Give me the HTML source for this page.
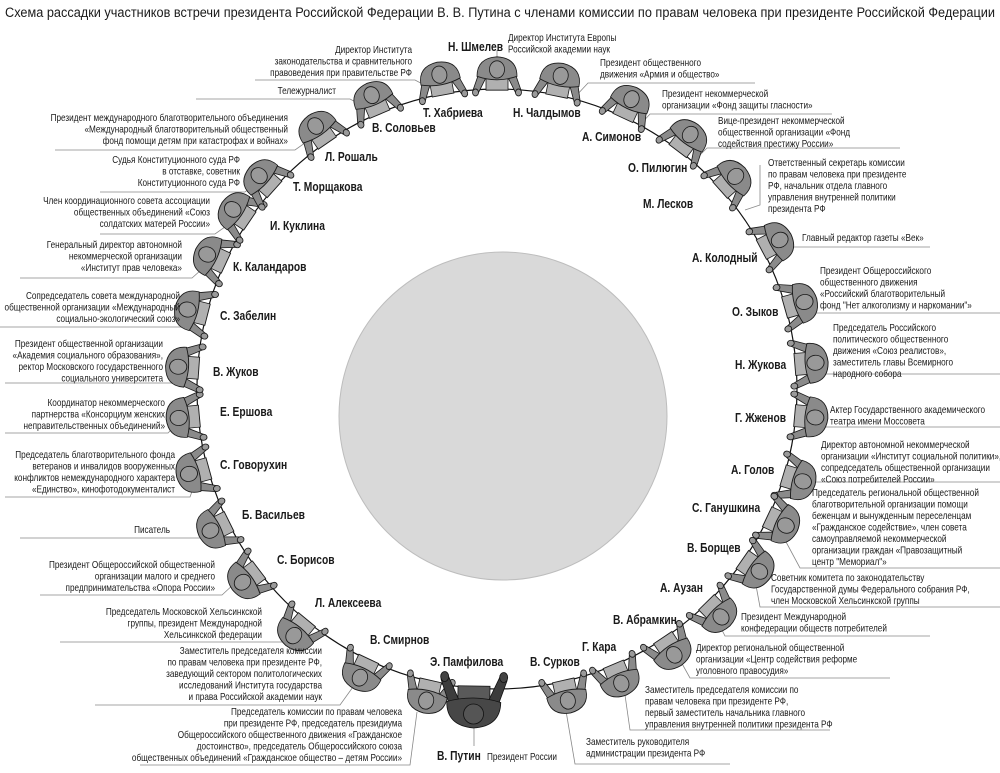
<!DOCTYPE html>
<html><head><meta charset="utf-8"><style>
html,body{margin:0;padding:0;background:#fff}
svg{display:block}
text{font-family:"Liberation Sans","DejaVu Sans",sans-serif;fill:#1a1a1a}
.d{font-size:10px}
.n{font-size:12.5px;font-weight:bold}
.e{text-anchor:end}
.l{stroke:#888;stroke-width:.8;fill:none}
</style></head><body>
<svg width="1000" height="773" viewBox="0 0 1000 773" xmlns="http://www.w3.org/2000/svg">
<defs>
<g id="p" stroke="#1a1a1a" stroke-width=".8"><g transform="scale(1,1.15)">
<rect x="-11" y="-1" width="22" height="14" fill="#b0b0b0"/>
<path d="M-18,14 L-24,-1 L-19,-4 L-11,10Z" fill="#8a8a8a"/>
<path d="M18,14 L24,-1 L19,-4 L11,10Z" fill="#8a8a8a"/>
<circle cx="-21.5" cy="-3" r="3" fill="#9a9a9a"/>
<circle cx="21.5" cy="-3" r="3" fill="#9a9a9a"/>
<path d="M-20,11 Q-20,27 0,28 Q20,27 20,11 Q10,8 0,8 Q-10,8 -20,11Z" fill="#8a8a8a"/>
<circle cx="0" cy="17" r="7.5" fill="#999"/>
</g></g>
<g id="pp" stroke="#111" stroke-width=".8">
<rect x="-16" y="-2" width="32" height="18" fill="#5a5a5a"/>
<path d="M-24,18 L-33,-8 L-26,-12 L-15,12Z" fill="#3c3c3c"/>
<path d="M24,18 L33,-8 L26,-12 L15,12Z" fill="#3c3c3c"/>
<ellipse cx="-29.5" cy="-11" rx="4" ry="5" fill="#444"/>
<ellipse cx="29.5" cy="-11" rx="4" ry="5" fill="#444"/>
<path d="M-27,14 Q-27,38 0,40 Q27,38 27,14 Q14,10 0,10 Q-14,10 -27,14Z" fill="#474747"/>
<circle cx="0" cy="26" r="10" fill="#555"/>
</g>
</defs>

<text x="5" y="17" style="font-size:13.5px" textLength="990" lengthAdjust="spacingAndGlyphs">Схема рассадки участников встречи президента Российской Федерации В. В. Путина с членами комиссии по правам человека при президенте Российской Федерации</text>

<circle cx="503" cy="416" r="164" fill="#d9d9d9" stroke="#bdbdbd" stroke-width="1"/>
<circle cx="497" cy="389" r="300" fill="none" stroke="#111" stroke-width="1.2"/>

<g class="l">
<polyline points="255,80 415,80 430,88"/>
<polyline points="196,99 350,99 365,107"/>
<polyline points="55,150 295,150 312,138"/>
<polyline points="100,192 245,192 258,182"/>
<polyline points="100,234 215,234 232,222"/>
<polyline points="20,278 192,278 210,262"/>
<polyline points="0,327 185,327 195,318"/>
<polyline points="5,383 172,383 180,375"/>
<polyline points="5,433 168,433 178,423"/>
<polyline points="5,497 190,497 195,483"/>
<polyline points="20,538 200,538 208,535"/>
<polyline points="40,595 222,595 235,583"/>
<polyline points="60,642 282,642 292,632"/>
<polyline points="95,705 340,705 358,680"/>
<polyline points="140,765 410,765 417,712"/>
<line x1="474" y1="728" x2="474" y2="746"/>
<line x1="497" y1="62" x2="497" y2="50"/>
<polyline points="755,83 588,83 575,97"/>
<polyline points="832,114 650,114 640,125"/>
<polyline points="900,148 707,148 697,158"/>
<polyline points="760,165 760,205 745,210"/>
<polyline points="930,247 785,247 775,252"/>
<polyline points="1000,313 800,313 795,310"/>
<polyline points="1000,374 815,374 810,366"/>
<polyline points="1000,427 815,427 810,420"/>
<polyline points="1000,482 815,482 805,480"/>
<polyline points="1000,568 800,568 785,540"/>
<polyline points="1000,607 760,607 755,580"/>
<polyline points="930,636 725,636 718,622"/>
<polyline points="890,678 690,678 680,660"/>
<polyline points="830,730 630,730 625,695"/>
<polyline points="730,764 575,764 565,705"/>
</g>

<use href="#p" transform="translate(430.5,681.5) rotate(12.8)"/>
<use href="#p" transform="translate(368.3,660) rotate(25.4)"/>
<use href="#p" transform="translate(306.2,620.5) rotate(39.5)"/>
<use href="#p" transform="translate(258.1,570.4) rotate(52.8)"/>
<use href="#p" transform="translate(228,521.9) rotate(63.7)"/>
<use href="#p" transform="translate(207.8,468.7) rotate(74.6)"/>
<use href="#p" transform="translate(198.2,416.2) rotate(84.8)"/>
<use href="#p" transform="translate(197.7,368.1) rotate(94)"/>
<use href="#p" transform="translate(206.4,314.4) rotate(104.4)"/>
<use href="#p" transform="translate(224.9,262.7) rotate(114.9)"/>
<use href="#p" transform="translate(248.9,220.4) rotate(124.2)"/>
<use href="#p" transform="translate(273.7,188.7) rotate(131.9)"/>
<use href="#p" transform="translate(326.7,142.1) rotate(145.4)"/>
<use href="#p" transform="translate(379.3,113.1) rotate(156.9)"/>
<use href="#p" transform="translate(442.9,93.9) rotate(169.6)"/>
<use href="#p" transform="translate(497,89) rotate(180)"/>
<use href="#p" transform="translate(556.8,95) rotate(191.5)"/>
<use href="#p" transform="translate(623.3,116.9) rotate(204.9)"/>
<use href="#p" transform="translate(678.4,150.1) rotate(217.2)"/>
<use href="#p" transform="translate(721,189.4) rotate(228.3)"/>
<use href="#p" transform="translate(762.4,249.1) rotate(242.2)"/>
<use href="#p" transform="translate(785.7,307.3) rotate(254.2)"/>
<use href="#p" transform="translate(796,364.4) rotate(265.3)"/>
<use href="#p" transform="translate(795.8,415.7) rotate(275.1)"/>
<use href="#p" transform="translate(784.2,475.7) rotate(286.8)"/>
<use href="#p" transform="translate(768.2,517.2) rotate(295.3)"/>
<use href="#p" transform="translate(743.3,560.2) rotate(304.8)"/>
<use href="#p" transform="translate(707.3,603) rotate(315.5)"/>
<use href="#p" transform="translate(663.4,638.6) rotate(326.3)"/>
<use href="#p" transform="translate(613.7,665.4) rotate(337.1)"/>
<use href="#p" transform="translate(563.5,681.5) rotate(347.2)"/>
<use href="#pp" transform="translate(474,688) rotate(1)"/>

<text class="n" transform="translate(448,51) scale(.82,1)">Н. Шмелев</text>
<text class="n" transform="translate(423,117) scale(.82,1)">Т. Хабриева</text>
<text class="n" transform="translate(513,117) scale(.82,1)">Н. Чалдымов</text>
<text class="n" transform="translate(372,132) scale(.82,1)">В. Соловьев</text>
<text class="n" transform="translate(582,141) scale(.82,1)">А. Симонов</text>
<text class="n" transform="translate(325,161) scale(.82,1)">Л. Рошаль</text>
<text class="n" transform="translate(628,172) scale(.82,1)">О. Пилюгин</text>
<text class="n" transform="translate(293,191) scale(.82,1)">Т. Морщакова</text>
<text class="n" transform="translate(643,208) scale(.82,1)">М. Лесков</text>
<text class="n" transform="translate(270,230) scale(.82,1)">И. Куклина</text>
<text class="n" transform="translate(692,262) scale(.82,1)">А. Колодный</text>
<text class="n" transform="translate(233,271) scale(.82,1)">К. Каландаров</text>
<text class="n" transform="translate(732,316) scale(.82,1)">О. Зыков</text>
<text class="n" transform="translate(220,320) scale(.82,1)">С. Забелин</text>
<text class="n" transform="translate(735,369) scale(.82,1)">Н. Жукова</text>
<text class="n" transform="translate(213,376) scale(.82,1)">В. Жуков</text>
<text class="n" transform="translate(220,416) scale(.82,1)">Е. Ершова</text>
<text class="n" transform="translate(735,422) scale(.82,1)">Г. Жженов</text>
<text class="n" transform="translate(220,469) scale(.82,1)">С. Говорухин</text>
<text class="n" transform="translate(731,474) scale(.82,1)">А. Голов</text>
<text class="n" transform="translate(242,519) scale(.82,1)">Б. Васильев</text>
<text class="n" transform="translate(692,512) scale(.82,1)">С. Ганушкина</text>
<text class="n" transform="translate(687,552) scale(.82,1)">В. Борщев</text>
<text class="n" transform="translate(277,564) scale(.82,1)">С. Борисов</text>
<text class="n" transform="translate(660,592) scale(.82,1)">А. Аузан</text>
<text class="n" transform="translate(315,607) scale(.82,1)">Л. Алексеева</text>
<text class="n" transform="translate(613,624) scale(.82,1)">В. Абрамкин</text>
<text class="n" transform="translate(370,644) scale(.82,1)">В. Смирнов</text>
<text class="n" transform="translate(582,651) scale(.82,1)">Г. Кара</text>
<text class="n" transform="translate(430,666) scale(.82,1)">Э. Памфилова</text>
<text class="n" transform="translate(530,666) scale(.82,1)">В. Сурков</text>
<text class="n" transform="translate(437,760) scale(.82,1)">В. Путин</text>
<text class="d" transform="translate(487,760) scale(.82,1)">Президент России</text>

<g class="d e">
<g transform="translate(412,53) scale(.82,1)"><text class="e" y="0">Директор Института</text><text class="e" y="11.5">законодательства и сравнительного</text><text class="e" y="23">правоведения при правительстве РФ</text></g>
<g transform="translate(336,94) scale(.82,1)"><text class="e">Тележурналист</text></g>
<g transform="translate(288,121) scale(.82,1)"><text class="e" y="0">Президент международного благотворительного объединения</text><text class="e" y="11.5">«Международный благотворительный общественный</text><text class="e" y="23">фонд помощи детям при катастрофах и войнах»</text></g>
<g transform="translate(240,163) scale(.82,1)"><text class="e" y="0">Судья Конституционного суда РФ</text><text class="e" y="11.5">в отставке, советник</text><text class="e" y="23">Конституционного суда РФ</text></g>
<g transform="translate(210,204) scale(.82,1)"><text class="e" y="0">Член координационного совета ассоциации</text><text class="e" y="11.5">общественных объединений «Союз</text><text class="e" y="23">солдатских матерей России»</text></g>
<g transform="translate(182,248) scale(.82,1)"><text class="e" y="0">Генеральный директор автономной</text><text class="e" y="11.5">некоммерческой организации</text><text class="e" y="23">«Институт прав человека»</text></g>
<g transform="translate(180,299) scale(.82,1)"><text class="e" y="0">Сопредседатель совета международной</text><text class="e" y="11.5">общественной организации «Международный</text><text class="e" y="23">социально-экологический союз»</text></g>
<g transform="translate(163,347) scale(.82,1)"><text class="e" y="0">Президент общественной организации</text><text class="e" y="11.5">«Академия социального образования»,</text><text class="e" y="23">ректор Московского государственного</text><text class="e" y="34.5">социального университета</text></g>
<g transform="translate(165,406) scale(.82,1)"><text class="e" y="0">Координатор некоммерческого</text><text class="e" y="11.5">партнерства «Консорциум женских</text><text class="e" y="23">неправительственных объединений»</text></g>
<g transform="translate(175,458) scale(.82,1)"><text class="e" y="0">Председатель благотворительного фонда</text><text class="e" y="11.5">ветеранов и инвалидов вооруженных</text><text class="e" y="23">конфликтов немеждународного характера</text><text class="e" y="34.5">«Единство», кинофотодокументалист</text></g>
<g transform="translate(170,533) scale(.82,1)"><text class="e">Писатель</text></g>
<g transform="translate(215,568) scale(.82,1)"><text class="e" y="0">Президент Общероссийской общественной</text><text class="e" y="11.5">организации малого и среднего</text><text class="e" y="23">предпринимательства «Опора России»</text></g>
<g transform="translate(262,615) scale(.82,1)"><text class="e" y="0">Председатель Московской Хельсинкской</text><text class="e" y="11.5">группы, президент Международной</text><text class="e" y="23">Хельсинкской федерации</text></g>
<g transform="translate(322,654) scale(.82,1)"><text class="e" y="0">Заместитель председателя комиссии</text><text class="e" y="11.5">по правам человека при президенте РФ,</text><text class="e" y="23">заведующий сектором политологических</text><text class="e" y="34.5">исследований Института государства</text><text class="e" y="46">и права Российской академии наук</text></g>
<g transform="translate(402,715) scale(.82,1)"><text class="e" y="0">Председатель комиссии по правам человека</text><text class="e" y="11.5">при президенте РФ, председатель президиума</text><text class="e" y="23">Общероссийского общественного движения «Гражданское</text><text class="e" y="34.5">достоинство», председатель Общероссийского союза</text><text class="e" y="46">общественных объединений «Гражданское общество – детям России»</text></g>
</g>

<g class="d">
<g transform="translate(508,41) scale(.82,1)"><text y="0">Директор Института Европы</text><text y="11.5">Российской академии наук</text></g>
<g transform="translate(600,66) scale(.82,1)"><text y="0">Президент общественного</text><text y="11.5">движения «Армия и общество»</text></g>
<g transform="translate(662,97) scale(.82,1)"><text y="0">Президент некоммерческой</text><text y="11.5">организации «Фонд защиты гласности»</text></g>
<g transform="translate(718,124) scale(.82,1)"><text y="0">Вице-президент некоммерческой</text><text y="11.5">общественной организации «Фонд</text><text y="23">содействия престижу России»</text></g>
<g transform="translate(768,166) scale(.82,1)"><text y="0">Ответственный секретарь комиссии</text><text y="11.5">по правам человека при президенте</text><text y="23">РФ, начальник отдела главного</text><text y="34.5">управления внутренней политики</text><text y="46">президента РФ</text></g>
<g transform="translate(802,241) scale(.82,1)"><text>Главный редактор газеты «Век»</text></g>
<g transform="translate(820,274) scale(.82,1)"><text y="0">Президент Общероссийского</text><text y="11.5">общественного движения</text><text y="23">«Российский благотворительный</text><text y="34.5">фонд "Нет алкоголизму и наркомании"»</text></g>
<g transform="translate(833,331) scale(.82,1)"><text y="0">Председатель Российского</text><text y="11.5">политического общественного</text><text y="23">движения «Союз реалистов»,</text><text y="34.5">заместитель главы Всемирного</text><text y="46">народного собора</text></g>
<g transform="translate(830,413) scale(.82,1)"><text y="0">Актер Государственного академического</text><text y="11.5">театра имени Моссовета</text></g>
<g transform="translate(821,448) scale(.82,1)"><text y="0">Директор автономной некоммерческой</text><text y="11.5">организации «Институт социальной политики»,</text><text y="23">сопредседатель общественной организации</text><text y="34.5">«Союз потребителей России»</text></g>
<g transform="translate(812,496) scale(.82,1)"><text y="0">Председатель региональной общественной</text><text y="11.5">благотворительной организации помощи</text><text y="23">беженцам и вынужденным переселенцам</text><text y="34.5">«Гражданское содействие», член совета</text><text y="46">самоуправляемой некоммерческой</text><text y="57.5">организации граждан «Правозащитный</text><text y="69">центр "Мемориал"»</text></g>
<g transform="translate(771,581) scale(.82,1)"><text y="0">Советник комитета по законодательству</text><text y="11.5">Государственной думы Федерального собрания РФ,</text><text y="23">член Московской Хельсинкской группы</text></g>
<g transform="translate(741,620) scale(.82,1)"><text y="0">Президент Международной</text><text y="11.5">конфедерации обществ потребителей</text></g>
<g transform="translate(696,651) scale(.82,1)"><text y="0">Директор региональной общественной</text><text y="11.5">организации «Центр содействия реформе</text><text y="23">уголовного правосудия»</text></g>
<g transform="translate(645,693) scale(.82,1)"><text y="0">Заместитель председателя комиссии по</text><text y="11.5">правам человека при президенте РФ,</text><text y="23">первый заместитель начальника главного</text><text y="34.5">управления внутренней политики президента РФ</text></g>
<g transform="translate(586,745) scale(.82,1)"><text y="0">Заместитель руководителя</text><text y="11.5">администрации президента РФ</text></g>
</g>
</svg>
</body></html>
